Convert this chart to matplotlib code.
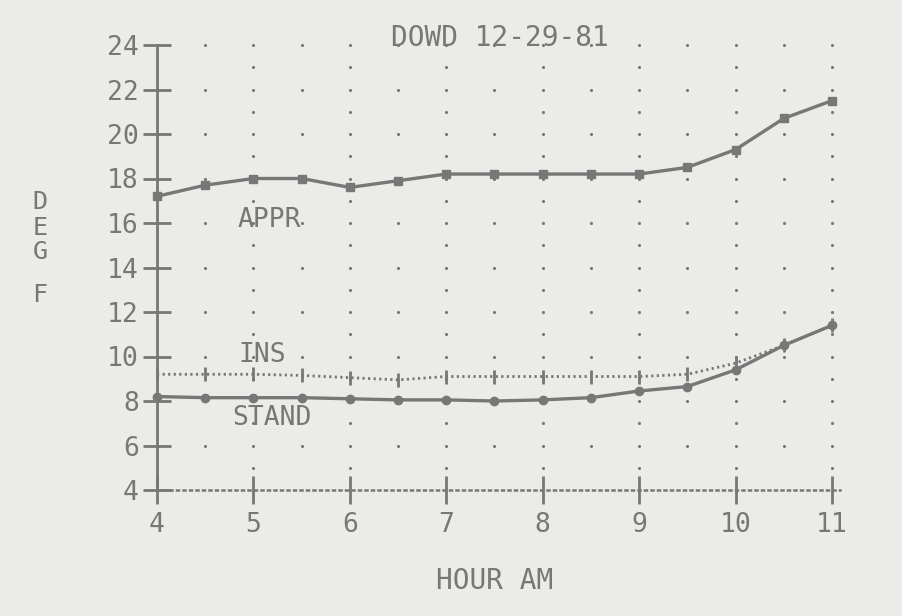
import numpy as np
import matplotlib
matplotlib.use("Agg")
import matplotlib.pyplot as plt

# readings every half hour, 4 AM to 11 AM
hours = [4, 4.5, 5, 5.5, 6, 6.5, 7, 7.5, 8, 8.5, 9, 9.5, 10, 10.5, 11]
appr = [17.2, 17.7, 18.0, 18.0, 17.6, 17.9, 18.2, 18.2, 18.2, 18.2, 18.2, 18.5, 19.3, 20.7, 21.5]
ins = [9.2, 9.2, 9.2, 9.15, 9.05, 8.95, 9.1, 9.1, 9.1, 9.1, 9.1, 9.2, 9.7, 10.5, 11.4]
stand = [8.2, 8.15, 8.15, 8.15, 8.1, 8.05, 8.05, 8.0, 8.05, 8.15, 8.45, 8.65, 9.4, 10.5, 11.4]

x_ticks = [4, 5, 6, 7, 8, 9, 10, 11]
y_ticks = [4, 6, 8, 10, 12, 14, 16, 18, 20, 22, 24]

ink = "#777777"
paper = "#ebebe8"
mono = "DejaVu Sans Mono"

fig = plt.figure(figsize=(9.03, 6.16), dpi=100, facecolor=paper)
ax = fig.add_axes([157 / 903, 126 / 616, 675 / 903, 445 / 616])
ax.set_facecolor(paper)
ax.set_xlim(4, 11)
ax.set_ylim(4, 24)

# axes: solid left, dotted bottom
for s in ["top", "right"]:
    ax.spines[s].set_visible(False)
ax.spines["left"].set_color(ink)
ax.spines["left"].set_linewidth(2)
ax.spines["bottom"].set_color(ink)
ax.spines["bottom"].set_linewidth(1.8)
ax.spines["bottom"].set_linestyle((0, (0.8, 1.8)))
ax.spines["bottom"].set_bounds(4, 11.08)

ax.set_xticks(x_ticks)
ax.set_yticks(y_ticks)
ax.set_xticklabels([str(h) for h in x_ticks])
ax.set_yticklabels([str(v) for v in y_ticks])
ax.tick_params(axis="both", direction="inout", length=20, width=2, color=ink,
               labelcolor=ink, labelsize=19)
ax.tick_params(axis="x", pad=6)
ax.tick_params(axis="y", pad=3)
for lab in ax.get_xticklabels() + ax.get_yticklabels():
    lab.set_family(mono)

# dotted grid: every degree on the hour, every 2 degrees on the half hour
gx, gy = [], []
for h in np.arange(4.5, 11.01, 0.5):
    step = 1 if float(h).is_integer() else 2
    for v in np.arange(5 if step == 1 else 6, 24.01, step):
        gx.append(h)
        gy.append(v)
ax.scatter(gx, gy, s=5, color=ink, linewidths=0, clip_on=False, zorder=1)

# series
ax.plot(hours, appr, color=ink, lw=2.4, marker="s", ms=6, clip_on=False, zorder=3)
ax.plot(hours, stand, color=ink, lw=2.4, marker="o", ms=6, clip_on=False, zorder=3)
ax.plot(hours, ins, color=ink, lw=2, linestyle=(0, (0.8, 1.2)), marker="|", ms=10,
        mew=2, clip_on=False, zorder=3)

# labels
ax.text(4.83, 16.13, "APPR", family=mono, fontsize=19, color=ink, va="center")
ax.text(4.84, 10.07, "INS", family=mono, fontsize=19, color=ink, va="center")
ax.text(4.78, 7.24, "STAND", family=mono, fontsize=19, color=ink, va="center")
ax.text(7.56, 24.31, "DOWD 12-29-81", family=mono, fontsize=20, color=ink,
        ha="center", va="center", clip_on=False)
ax.text(7.5, -0.09, "HOUR AM", family=mono, fontsize=20, color=ink,
        ha="center", va="center", clip_on=False)
for letter, yv in zip("DEGF", [16.94, 15.78, 14.70, 12.76]):
    ax.text(2.787, yv, letter, family=mono, fontsize=18, color=ink,
            ha="center", va="center", clip_on=False)

fig.savefig("out.png", dpi=100, facecolor=paper)
